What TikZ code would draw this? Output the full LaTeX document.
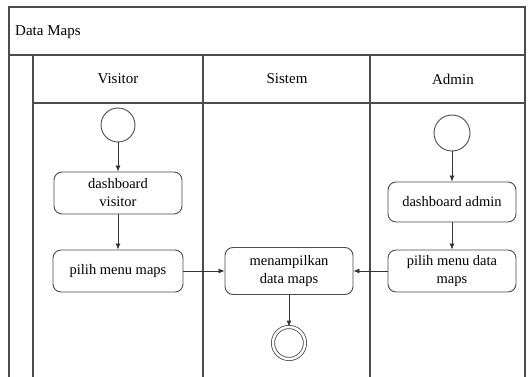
\documentclass[tikz,border=0pt]{standalone}
\usepackage{fontspec}
\setmainfont{Liberation Serif}
\usetikzlibrary{arrows.meta}

\tikzset{
  frameline/.style={draw=black!70, line width=1.1pt},
  lbl/.style={font=\fontsize{15}{18}\selectfont, text=black, inner sep=0pt},
  activity/.style={draw=black!70, line width=0.9pt, rounded corners=8pt,
    minimum width=128pt, minimum height=42pt, align=center,
    font=\fontsize{14.5}{18}\selectfont, text=black, inner sep=2pt},
  startnode/.style={draw=black!70, line width=0.9pt, circle, minimum size=34pt, inner sep=0pt},
  endnode/.style={draw=black!70, line width=0.8pt, circle, double, double distance=2.4pt,
    minimum size=32pt, inner sep=0pt},
  flow/.style={draw=black!80, line width=0.8pt, -{Latex[length=6pt,width=5pt]}}
}

\begin{document}
\begin{tikzpicture}[x=1pt,y=-1pt]
\useasboundingbox (0,0) rectangle (528,377);
\fill[white] (0,0) rectangle (528,377);

% frame, title bar and swimlanes
\draw[frameline] (9,377) -- (9,7) -- (525,7) -- (525,377);
\draw[frameline] (9,55) -- (525,55);
\draw[frameline] (33,55) -- (33,377);
\draw[frameline] (33,103) -- (525,103);
\draw[frameline] (203,55) -- (203,377);
\draw[frameline] (370,55) -- (370,377);

\node[lbl, anchor=west] (title) at (15,32) {Data Maps};
\node[lbl] (hvisitor) at (118,79) {Visitor};
\node[lbl] (hsistem) at (287,79) {Sistem};
\node[lbl] (hadmin) at (453,79) {Admin};

% Visitor lane
\node[startnode] (vstart) at (118,125) {};
\node[activity] (vdash) at (118,193) {dashboard\\visitor};
\node[activity, minimum width=130pt] (vmenu) at (118,271) {pilih menu maps};

% Sistem lane
\node[activity, minimum height=47pt] (show) at (289,271) {menampilkan\\data maps};
\node[endnode] (send) at (289,343) {};

% Admin lane
\node[startnode, minimum size=36pt] (astart) at (452,133) {};
\node[activity, minimum height=40pt] (adash) at (452,202) {dashboard admin};
\node[activity] (amenu) at (452,271) {pilih menu data\\maps};

% control flow
\draw[flow] (vstart) -- (vdash);
\draw[flow] (vdash) -- (vmenu);
\draw[flow] (vmenu) -- (show);
\draw[flow] (astart) -- (adash);
\draw[flow] (adash) -- (amenu);
\draw[flow] (amenu) -- (show);
\draw[flow] (show) -- (send);
\end{tikzpicture}
\end{document}
